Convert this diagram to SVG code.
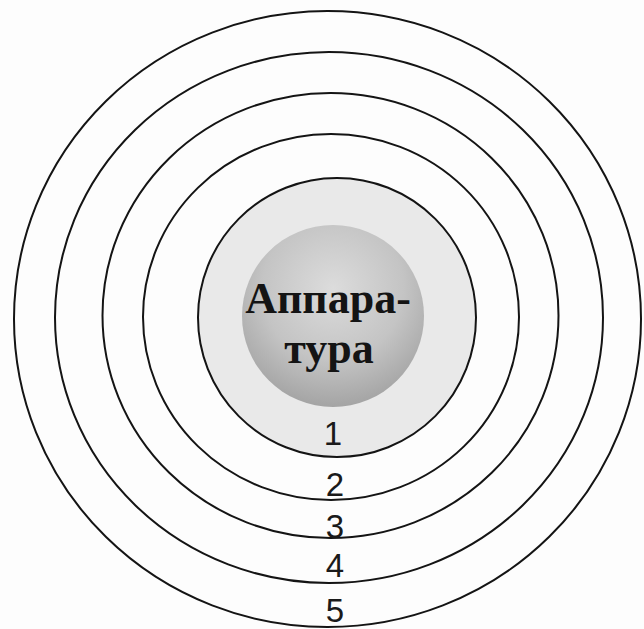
<svg xmlns="http://www.w3.org/2000/svg" width="644" height="629" viewBox="0 0 644 629">
<style>
.ring{fill:none;stroke:#141414;stroke-width:2}
.num{font-family:"Liberation Sans",Arial,sans-serif;font-size:33px;fill:#1a1a1a;text-anchor:middle}
.core{font-family:"Liberation Serif","Times New Roman",serif;font-weight:bold;font-size:44px;fill:#141414;text-anchor:middle}
</style>
<defs>
<radialGradient id="sphere" cx="0.5" cy="0.35" r="0.65">
<stop offset="0" stop-color="#dcdcdc"/>
<stop offset="0.6" stop-color="#c4c4c4"/>
<stop offset="1" stop-color="#a4a4a4"/>
</radialGradient>
</defs>
<rect width="644" height="629" fill="#fdfdfd"/>
<g id="ring5"><ellipse class="ring" cx="327.5" cy="319" rx="313.5" ry="308"/></g>
<g id="ring4"><ellipse class="ring" cx="329" cy="317.5" rx="274" ry="265.5"/></g>
<g id="ring3"><ellipse class="ring" cx="330.5" cy="315.5" rx="228" ry="222.5"/></g>
<g id="ring2"><ellipse class="ring" cx="331" cy="317" rx="188" ry="183"/></g>
<g id="ring1"><ellipse cx="337" cy="317.5" rx="139" ry="139.5" fill="#e9e9e9" stroke="#141414" stroke-width="2"/></g>
<g id="core">
<circle cx="333" cy="316" r="91" fill="url(#sphere)"/>
<text class="core" x="328" y="313">Аппара-</text>
<text class="core" x="329" y="363">тура</text>
</g>
<g id="labels">
<text class="num" x="333" y="445">1</text>
<text class="num" x="335" y="496">2</text>
<text class="num" x="335" y="538">3</text>
<text class="num" x="335" y="577">4</text>
<text class="num" x="335" y="622">5</text>
</g>
</svg>
